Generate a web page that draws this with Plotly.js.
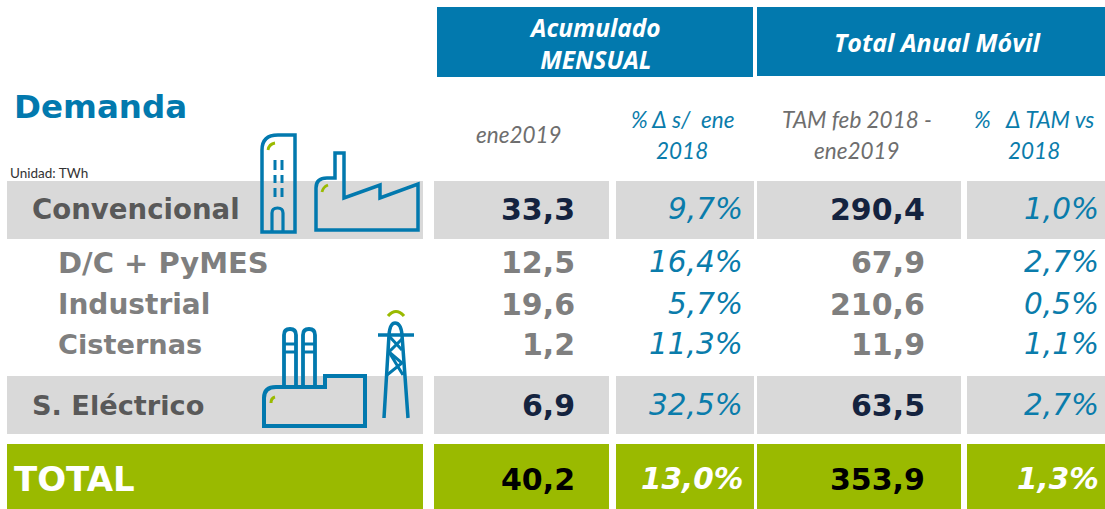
<!DOCTYPE html>
<html><head><meta charset="utf-8">
<script src="https://cdn.plot.ly/plotly-3.0.1.min.js"></script>
<style>html,body{margin:0;padding:0;background:#fff}</style></head>
<body><div id="c" style="width:1105px;height:509px"></div>
<script>
// ---- data ----
const rowLabels = ["Convencional","D/C + PyMES","Industrial","Cisternas","S. Eléctrico","TOTAL"];
const mensual   = ["33,3","12,5","19,6","1,2","6,9","40,2"];
const varMes    = ["9,7%","16,4%","5,7%","11,3%","32,5%","13,0%"];
const tam       = ["290,4","67,9","210,6","11,9","63,5","353,9"];
const varTam    = ["1,0%","2,7%","0,5%","1,1%","2,7%","1,3%"];
const colHeads  = [["ene2019"],["% Δ s/\u00a0 ene","2018"],["TAM feb 2018 -","ene2019"],["%\u00a0\u00a0 Δ TAM vs","2018"]];
const groupHeads= ["Acumulado<br>MENSUAL","Total Anual Móvil"];

// ---- layout helpers ----
const BLUE="#0279AE", STEEL="#0A7CAB", GREEN="#9ABA00", GREY="#D9D9D9", NAVY="#14233F", MID="#7F7F7F", DARK="#595959";
const VERD="DejaVu Sans", CAL="Lato", OPEN="Open Sans";
const rowY=[209,262,304,344,405,479];
const labelY=[209,263,304,344,405,479];
const rowKind=["band","sub","sub","sub","band","total"];
const labelSize=[27.6,29,28,27.2,27.2,34];
const colRight=[577,745,927,1101];
const cols=[[434,609],[616,754],[757,961],[967,1105]];
const shapes=[], ann=[];
const rect=(x0,x1,y0,y1,c)=>shapes.push({type:"rect",x0,x1,y0,y1,fillcolor:c,line:{width:0},layer:"below"});
const txt=(x,y,text,size,color,fam,anchor)=>ann.push({x,y,text,xref:"x",yref:"y",showarrow:false,xanchor:anchor||"center",yanchor:"middle",font:{size,color,family:fam},align:"center"});
const ital=s=>"<i>"+s+"</i>", bold=s=>"<b>"+s+"</b>";

rect(437,753,7,77,BLUE); rect(757,1105,7,76,BLUE);
[[181,239,GREY],[376,434,GREY],[444,509,GREEN]].forEach(([a,b,c])=>{
  rect(7,423,a,b,c);
  cols.forEach(([l,r])=>rect(l,r,a,b,c));
});

// headers
txt(595,43,ital(bold(groupHeads[0])),24.5,"#fff",OPEN);
txt(937,42,ital(bold(groupHeads[1])),25,"#fff",OPEN);
txt(519,134,ital(colHeads[0][0]),22.5,"#6E6E6E",CAL);
[[682,STEEL],[857,"#6E6E6E"],[1034,STEEL]].forEach(([x,c],k)=>{
  txt(x,119,ital(colHeads[k+1][0]),22.5,c,CAL);
  txt(x,150,ital(colHeads[k+1][1]),22.5,c,CAL);
});
txt(12,107,bold("Demanda"),32.5,BLUE,VERD,"left");
txt(8,173,"Unidad: TWh",13.5,"#333",CAL,"left");

// rows
rowLabels.forEach((l,i)=>{
  const k=rowKind[i], y=rowY[i];
  const lx=k==="sub"?56:(k==="band"?30:12);
  const lc=k==="total"?"#fff":(k==="band"?DARK:MID);
  txt(lx,labelY[i],bold(l),labelSize[i],lc,VERD,"left");
  const vc=k==="total"?"#000":(k==="band"?NAVY:MID);
  const pc=k==="total"?"#fff":STEEL;
  txt(colRight[0],y,bold(mensual[i]),30,vc,VERD,"right");
  txt(colRight[2],y,bold(tam[i]),30,vc,VERD,"right");
  const f=k==="total"?s=>ital(bold(s)):ital;
  txt(colRight[1],y,f(varMes[i]),29.5,pc,VERD,"right");
  txt(colRight[3],y,f(varTam[i]),29.5,pc,VERD,"right");
});

// icons (decorative outlines)
const ic=(path,w,c,fill)=>shapes.push({type:"path",path,line:{color:c||BLUE,width:w},fillcolor:fill||"rgba(0,0,0,0)",layer:"above"});
// building
ic("M262 232 L262 150 Q262 135 278 135 L295 135 L295 232 Z",3.5,BLUE);
ic("M272 232 L272 213 Q272 208 277.5 208 Q283 208 283 213 L283 232",3.2);
[[160,170],[175,183],[188,197]].forEach(([a,b])=>{ic(`M275 ${a} L275 ${b}`,3);ic(`M282 ${a} L282 ${b}`,3);});
ic("M268 150 Q269 144 275 143",2.8,GREEN);
// factory
ic("M316 230 L316 188 Q316 178 327 178 L335 178 L335 153 L344 153 L344 198 L380 185 L380 198 L418 184 L418 230 Z",3.5);
ic("M322 192 Q323 187 328 185",2.8,GREEN);
// power plant
ic("M264 426 L264 398 Q264 387 276 387 L325 387 L325 376 L365 376 L365 426 Z",4);
ic("M284 387 L284 335 Q284 329 290 329 Q296 329 296 335 L296 387",3.8);
ic("M303 387 L303 335 Q303 329 309 329 Q315 329 315 335 L315 387",3.8);
ic("M284 344 L296 344 M284 352 L296 352 M303 344 L315 344 M303 352 L315 352",3);
ic("M271 403 Q271 398 275 397",3,GREEN);
// pylon
ic("M384 418 L389 335 Q390 323 395 323 Q401 323 402 335 L408 418",3.5);
ic("M378 335 L414 335",3.5);
ic("M403 338 L389 352 L402 363 L387 375 M389 336 L402 350 M389 352 L403 375",3);
ic("M388 316 Q396 307 404 316",3.2,GREEN);

Plotly.newPlot("c",[{x:[0],y:[0],mode:"none",hoverinfo:"skip",showlegend:false,type:"scatter"}],{
  width:1105,height:509,margin:{l:0,r:0,t:0,b:0},paper_bgcolor:"#fff",plot_bgcolor:"#fff",showlegend:false,
  xaxis:{range:[0,1105],visible:false,fixedrange:true},
  yaxis:{range:[509,0],visible:false,fixedrange:true},
  shapes,annotations:ann
},{displayModeBar:false,staticPlot:true});
</script></body></html>
